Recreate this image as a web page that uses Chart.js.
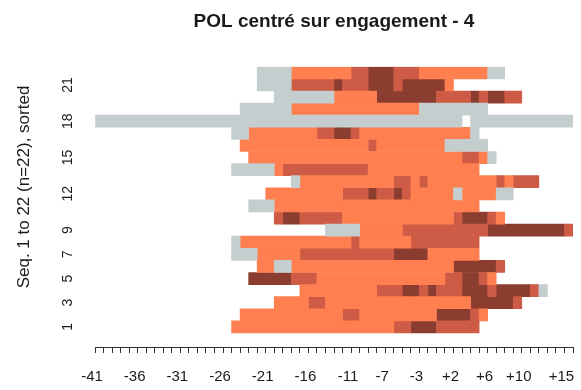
<!DOCTYPE html>
<html lang="fr">
<head>
<meta charset="UTF-8">
<title>POL centré sur engagement - 4</title>
<script src="https://cdn.jsdelivr.net/npm/chart.js"></script>
<style>
  html, body { margin: 0; padding: 0; background: #fff; }
</style>
</head>
<body>
<canvas id="seqChart" width="581" height="390"></canvas>
<script>
  // Chart title and y axis text
  const chartTitle = 'POL centré sur engagement - 4';
  const yTitle = 'Seq. 1 to 22 (n=22), sorted';

  // x axis: 56 time columns, labels shown only at some of them
  const nCols = 56;
  const tickCols = [0, 5, 10, 15, 20, 25, 30, 34, 38, 42, 46, 50, 55];
  const tickLabels = ['-41', '-36', '-31', '-26', '-21', '-16', '-11', '-7', '-3', '+2', '+6', '+10', '+15'];

  // y axis: sequence numbers and the ones that get a label
  const seqIds = [1, 2, 3, 4, 5, 6, 7, 8, 9, 10, 11, 12, 13, 14, 15, 16, 17, 18, 19, 20, 21, 22];
  const yTickRows = [1, 3, 5, 7, 9, 12, 15, 18, 21];

  // states: M = missing, A / B / C = the three states
  const stateCodes = ['M', 'A', 'B', 'C'];
  const stateColors = { M: '#C4CECE', A: '#FF7F50', B: '#CD5B45', C: '#8B3E2F' };

  // each sequence as runs [state, first column, last column], seq 1 first
  const sequences = [
    [['A', 16, 34], ['B', 35, 36], ['C', 37, 39], ['B', 40, 44]],
    [['A', 17, 28], ['B', 29, 30], ['A', 31, 39], ['C', 40, 43], ['B', 44, 44], ['A', 45, 45]],
    [['A', 21, 24], ['B', 25, 26], ['A', 27, 43], ['C', 44, 48], ['B', 49, 49]],
    [['A', 24, 32], ['B', 33, 35], ['C', 36, 37], ['B', 38, 38], ['C', 39, 39], ['B', 40, 42], ['C', 43, 45], ['B', 46, 46], ['C', 47, 50], ['B', 51, 51], ['M', 52, 52]],
    [['C', 18, 22], ['B', 23, 25], ['A', 26, 40], ['B', 41, 42], ['C', 43, 44], ['B', 45, 45], ['A', 46, 46]],
    [['A', 19, 20], ['M', 21, 22], ['A', 23, 41], ['C', 42, 46], ['B', 47, 47]],
    [['M', 16, 18], ['A', 19, 23], ['B', 24, 34], ['C', 35, 38], ['A', 39, 44]],
    [['M', 16, 16], ['A', 17, 29], ['B', 30, 30], ['A', 31, 36], ['B', 37, 44]],
    [['M', 27, 30], ['A', 31, 35], ['B', 36, 45], ['C', 46, 54], ['B', 55, 55]],
    [['B', 21, 21], ['C', 22, 23], ['B', 24, 28], ['A', 29, 41], ['B', 42, 42], ['C', 43, 45], ['B', 46, 46], ['A', 47, 47]],
    [['M', 18, 20], ['A', 21, 44]],
    [['A', 20, 28], ['B', 29, 31], ['C', 32, 32], ['B', 33, 34], ['C', 35, 35], ['B', 36, 36], ['A', 37, 41], ['M', 42, 42], ['A', 43, 46], ['M', 47, 48]],
    [['M', 23, 23], ['A', 24, 34], ['B', 35, 36], ['A', 37, 37], ['B', 38, 38], ['A', 39, 46], ['B', 47, 47], ['A', 48, 48], ['B', 49, 51]],
    [['M', 16, 20], ['A', 21, 21], ['B', 22, 31], ['A', 32, 44]],
    [['A', 18, 42], ['B', 43, 44], ['A', 45, 45], ['M', 46, 46]],
    [['A', 17, 31], ['B', 32, 32], ['A', 33, 40], ['M', 41, 45]],
    [['M', 16, 17], ['A', 18, 25], ['B', 26, 27], ['C', 28, 29], ['B', 30, 30], ['A', 31, 43], ['M', 44, 44]],
    [['M', 0, 42], ['M', 44, 55]],
    [['M', 17, 22], ['A', 23, 37], ['M', 38, 45]],
    [['M', 21, 27], ['A', 28, 32], ['C', 33, 39], ['B', 40, 43], ['C', 44, 44], ['B', 45, 45], ['C', 46, 47], ['B', 48, 49]],
    [['M', 19, 22], ['B', 23, 27], ['C', 28, 28], ['B', 29, 31], ['C', 32, 34], ['B', 35, 35], ['C', 36, 40], ['A', 41, 41]],
    [['M', 19, 22], ['A', 23, 29], ['B', 30, 31], ['C', 32, 34], ['B', 35, 37], ['A', 38, 45], ['M', 46, 47]]
  ];

  const FONT = '"Liberation Sans", Arial, sans-serif';
  const TEXT = '#1a1a1a';

  // one dataset per state, a floating bar for each run
  const datasets = stateCodes.map(code => {
    const data = [];
    sequences.forEach((runs, i) => {
      runs.forEach(([st, first, last]) => {
        if (st === code) data.push({ y: seqIds[i], x: [first, last + 1] });
      });
    });
    return {
      label: code,
      data: data,
      backgroundColor: stateColors[code],
      borderWidth: 0,
      barPercentage: 1,
      categoryPercentage: 1,
      grouped: false
    };
  });

  // rotated y labels and y title, drawn like R does
  const yTextPlugin = {
    id: 'yText',
    afterDraw(chart) {
      const ctx = chart.ctx;
      const y = chart.scales.y;
      ctx.save();
      ctx.fillStyle = TEXT;
      ctx.textAlign = 'center';
      ctx.textBaseline = 'middle';
      ctx.font = '14px ' + FONT;
      yTickRows.forEach(r => {
        ctx.save();
        ctx.translate(68, y.getPixelForValue(r));
        ctx.rotate(-Math.PI / 2);
        ctx.fillText(String(r), 0, 0);
        ctx.restore();
      });
      ctx.font = '17px ' + FONT;
      ctx.translate(24, 187);
      ctx.rotate(-Math.PI / 2);
      ctx.fillText(yTitle, 0, 0);
      ctx.restore();
    }
  };

  new Chart(document.getElementById('seqChart'), {
    type: 'bar',
    data: { datasets: datasets },
    plugins: [yTextPlugin],
    options: {
      indexAxis: 'y',
      responsive: false,
      animation: false,
      layout: { padding: { left: 0, right: 8, top: 0, bottom: 0 } },
      plugins: {
        legend: { display: false },
        tooltip: { enabled: false },
        title: {
          display: true,
          text: chartTitle,
          fullSize: false,
          color: TEXT,
          font: { family: FONT, size: 19, weight: 'bold' },
          padding: { top: 10, bottom: 34 }
        }
      },
      scales: {
        x: {
          type: 'linear',
          position: 'bottom',
          min: 0,
          max: nCols,
          afterBuildTicks: scale => {
            const t = [];
            for (let i = 0; i <= nCols; i++) t.push({ value: i });
            scale.ticks = t;
          },
          afterFit: scale => {
            scale.height = 43;
            scale.paddingLeft = 0;
            scale.paddingRight = 0;
          },
          ticks: {
            autoSkip: false,
            maxRotation: 0,
            padding: 15,
            labelOffset: -3,
            color: TEXT,
            font: { family: FONT, size: 15 },
            callback: v => {
              const k = tickCols.indexOf(v);
              return k >= 0 ? tickLabels[k] : '';
            }
          },
          grid: { drawOnChartArea: false, drawTicks: true, tickLength: 6, color: '#333', lineWidth: 1 },
          border: { display: true, color: '#333', width: 1 }
        },
        y: {
          type: 'linear',
          offset: false,
          min: -0.66,
          max: 22.5,
          afterBuildTicks: scale => { scale.ticks = seqIds.map(v => ({ value: v })); },
          afterFit: scale => { scale.width = 95; },
          ticks: { display: false },
          grid: { display: false },
          border: { display: false }
        }
      }
    }
  });
</script>
</body>
</html>
